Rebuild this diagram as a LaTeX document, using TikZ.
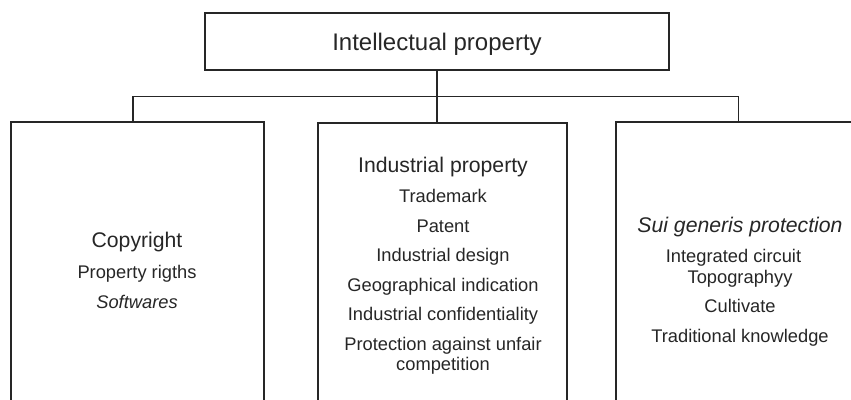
\documentclass[tikz,border=0pt]{standalone}
\usepackage{fontspec}
\setmainfont{Liberation Sans}
\begin{document}
\begin{tikzpicture}[x=1pt, y=-1pt,
        box/.style={draw=black!85, line width=1.2pt, inner sep=0pt},
        wire/.style={draw=black!85, line width=1.2pt},
        boxtext/.style={align=center, inner sep=0pt, anchor=north, text=black!85,
            font=\fontsize{18.3}{20.5}\selectfont}]
        % Page frame
        \useasboundingbox (0, 0) rectangle (851, 399);
        \clip (0, 0) rectangle (851, 399);

        % Draw boxes
        \node[box, minimum width=464pt, minimum height=57pt, text height=17.5pt, text depth=0pt,
            font=\fontsize{24}{28}\selectfont, text=black!85] (ip) at (437, 41.5) {Intellectual property};
        \node[box, minimum width=253pt, minimum height=320pt] (cr) at (137.5, 282) {};
        \node[box, minimum width=249pt, minimum height=320pt] (ind) at (442.5, 283) {};
        \node[box, minimum width=245pt, minimum height=320pt] (sg) at (738.5, 282) {};

        % Draw connectors
        \draw[wire] (ip.south) -- (ip.south |- ind.north);
        \draw[wire] ([xshift=-4.5pt]cr.north) -- ++(0, -25) -| (sg.north);

        % Copyright
        \node[boxtext] (crtext) at (137, 232) {{\fontsize{21.2}{24}\selectfont Copyright}\\[10.5pt]
            Property rigths\\[9pt] \textit{Softwares}};
        % Industrial property
        \node[boxtext] (indtext) at (443, 157) {{\fontsize{21.2}{24}\selectfont Industrial property}\\[9.5pt]
            Trademark\\[9pt] Patent\\[9pt] Industrial design\\[9pt] Geographical indication\\[9pt]
            Industrial confidentiality\\[9pt] Protection against unfair\\ competition};
        % Sui generis
        \node[boxtext] (sgtext) at (740, 217) {{\fontsize{21.2}{24}\selectfont\itshape Sui generis protection}\\[9.5pt]
            Integrated circuit\kern13pt\\ Topographyy\\[9pt] Cultivate\\[9pt] Traditional knowledge};

    \end{tikzpicture}
\end{document}
